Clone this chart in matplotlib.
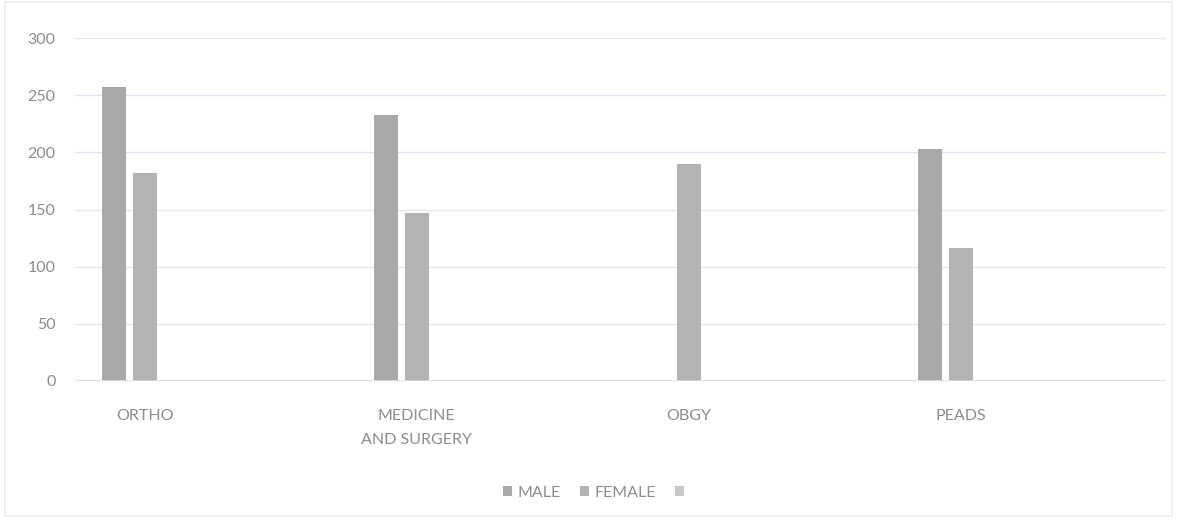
import matplotlib
matplotlib.use("Agg")
import matplotlib.pyplot as plt
import numpy as np

categories = ["ORTHO", "MEDICINE\nAND SURGERY", "OBGY", "PEADS"]
male = [257, 233, 0, 203]
female = [182, 147, 190, 116]
third = [0, 0, 0, 0]
series_names = ["MALE", "FEMALE", " "]
yticks = [0, 50, 100, 150, 200, 250, 300]

plt.rcParams['font.family'] = ['Lato', 'DejaVu Sans']

W, H = 1179, 524
fig = plt.figure(figsize=(W / 100, H / 100), dpi=100)
fig.patch.set_facecolor("white")

# faint scan border
border = plt.Rectangle((5 / W, 8 / H), (W - 12) / W, (H - 10) / H, transform=fig.transFigure,
                       fill=False, edgecolor="#ececf2", linewidth=1.2)
fig.patches.append(border)

left, right = 75 / W, 1166 / W
bottom, top = 1 - 381 / H, 1 - 38 / H
ax = fig.add_axes([left, bottom, right - left, top - bottom])

x = np.arange(len(categories))
bw = 0.088
off = 0.114
colors = ["#a9a9a9", "#b3b3b3", "#c8c8c8"]
ax.bar(x - off, male, bw, color=colors[0], label=series_names[0], zorder=3)
ax.bar(x, female, bw, color=colors[1], label=series_names[1], zorder=3)
ax.bar(x + off, third, bw, color=colors[2], label=series_names[2], zorder=3)

ax.set_xlim(-0.2555, 3.752)
ax.set_ylim(0, 300)
ax.set_yticks(yticks)
ax.set_yticklabels([str(v) for v in yticks])
ax.set_xticks(x)
ax.set_xticklabels(categories, linespacing=1.9)

for v in yticks[1:]:
    ax.axhline(v, color="#e6e4f0", linewidth=1.0, zorder=1)
ax.axhline(0, color="#d8d8e0", linewidth=1.2, zorder=4)

for s in ax.spines.values():
    s.set_visible(False)
ax.tick_params(axis="both", length=0, colors="#8c8c8c", labelsize=11.5)
ax.tick_params(axis="y", pad=14)
ax.tick_params(axis="x", pad=20)
for lab in ax.get_yticklabels():
    lab.set_horizontalalignment("right")

handles, labels = ax.get_legend_handles_labels()
leg = fig.legend(handles, labels, loc="center", bbox_to_anchor=(598 / W, 1 - 493 / H),
                 ncol=3, frameon=False, fontsize=11.5, handlelength=0.6, handleheight=0.6,
                 handletextpad=0.3, columnspacing=1.2, labelcolor="#8c8c8c")

fig.savefig("out.png", dpi=100, facecolor="white")
